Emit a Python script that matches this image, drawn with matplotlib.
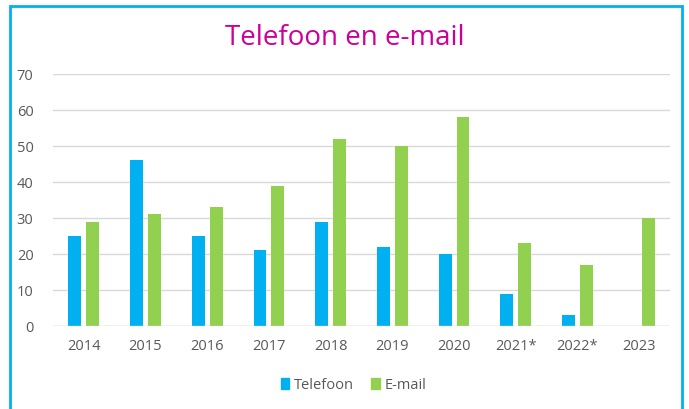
import matplotlib
matplotlib.use("Agg")
import matplotlib.pyplot as plt
from matplotlib.patches import Rectangle, Patch
import numpy as np

years = ["2014", "2015", "2016", "2017", "2018", "2019", "2020", "2021*", "2022*", "2023"]
telefoon = [25, 46, 25, 21, 29, 22, 20, 9, 3, 0]
email = [29, 31, 33, 39, 52, 50, 58, 23, 17, 30]
yticks = [0, 10, 20, 30, 40, 50, 60, 70]

blue = "#00B0F0"
green = "#92D050"
txt = "#595959"

plt.rcParams['font.family'] = ['Open Sans', 'DejaVu Sans']

fig = plt.figure(figsize=(6.89, 4.10), dpi=100)
ax = fig.add_axes([53/689, 1-327/410, (670-53)/689, (327-75)/410])

x = np.arange(len(years))
w = 0.21
off = 0.145
ax.bar(x - off, telefoon, w, color=blue, label="Telefoon", zorder=3)
ax.bar(x + off, email, w, color=green, label="E-mail", zorder=3)

ax.set_xlim(-0.5, len(years) - 0.5)
ax.set_ylim(0, 70)
ax.set_yticks(yticks)
ax.set_xticks(x)
ax.set_xticklabels(years)
ax.tick_params(axis='both', length=0, colors=txt, labelsize=10.5)
ax.tick_params(axis='x', pad=9)
ax.tick_params(axis='y', pad=14)
ax.grid(axis='y', color="#D9D9D9", linewidth=1, zorder=0)
for s in ax.spines.values():
    s.set_visible(False)
ax.axhline(0, color="#D9D9D9", linewidth=1, zorder=4)

fig.text(0.5, 1-38/410, "Telefoon en e-mail", ha='center', va='center',
         color="#CC0099", fontsize=20)

handles = [Patch(color=blue, label="Telefoon"), Patch(color=green, label="E-mail")]
fig.legend(handles=handles, loc='center', bbox_to_anchor=(0.5 + 9/689, 1-386/410), ncol=2,
           frameon=False, fontsize=10.5, labelcolor=txt, handlelength=0.6,
           handleheight=0.7, handletextpad=0.3, columnspacing=1.2)

fig.patches.append(Rectangle((10/689, -0.05), (682-10)/689, 1.05 - 7/410,
                             transform=fig.transFigure, fill=False,
                             edgecolor=blue, linewidth=2))

fig.savefig("out.png", dpi=100)
